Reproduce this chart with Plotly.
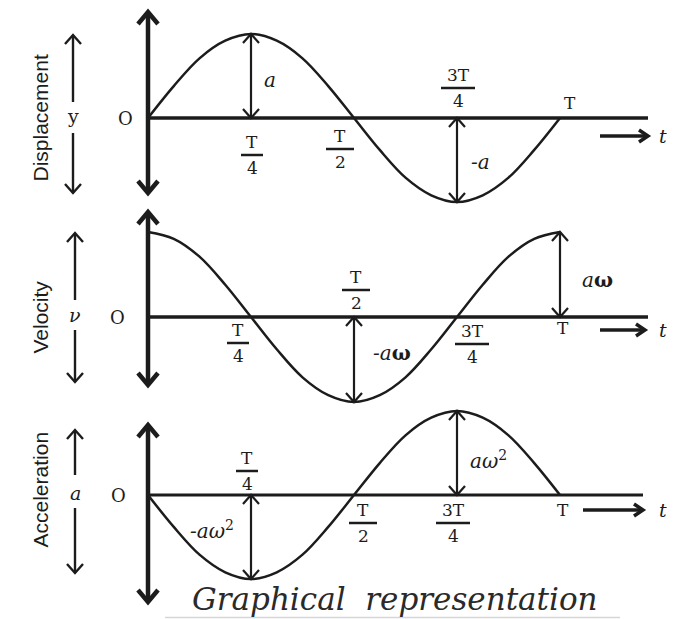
import plotly.graph_objects as go

# ---------------- data (t in units of the period T) ----------------
t_frac = [0, 0.0625, 0.125, 0.1875, 0.25, 0.3125, 0.375, 0.4375, 0.5,
          0.5625, 0.625, 0.6875, 0.75, 0.8125, 0.875, 0.9375, 1.0]
displacement = [0, 0.38, 0.71, 0.92, 1.0, 0.92, 0.71, 0.38, 0,
                -0.38, -0.71, -0.92, -1.0, -0.92, -0.71, -0.38, 0]
velocity = [1.0, 0.92, 0.71, 0.38, 0, -0.38, -0.71, -0.92, -1.0,
            -0.92, -0.71, -0.38, 0, 0.38, 0.71, 0.92, 1.0]
acceleration = [0, -0.38, -0.71, -0.92, -1.0, -0.92, -0.71, -0.38, 0,
                0.38, 0.71, 0.92, 1.0, 0.92, 0.71, 0.38, 0]

panel_titles = ["Displacement", "Velocity", "Acceleration"]
panel_symbols = ["y", "<i>ν</i>", "<i>a</i>"]
tick_t = [0.25, 0.5, 0.75, 1.0]
tick_num = ["T", "T", "3T", "T"]
tick_den = ["4", "2", "4", ""]

amp_t = [[0.25, 0.75], [0.5, 1.0], [0.25, 0.75]]
amp_val = [[1.0, -1.0], [-1.0, 1.0], [-1.0, 1.0]]
amp_labels = [["<i>a</i>", "<i>-a</i>"],
              ["<i>-a</i><b>ω</b>", "<i>a</i><b>ω</b>"],
              ["<i>-aω</i><sup>2</sup>", "<i>aω</i><sup>2</sup>"]]
title_text = "<i>Graphical  representation</i>"

# ---------------- layout geometry (pixels) ----------------
W, H = 678, 619
X0, SX = 148, 412                     # pixel of t=0, pixels per period
zero_px = [118, 317, 495]
amp_px = [84, 85, 84]
axis_top_px = [12, 212, 425]
axis_bot_px = [193, 385, 602]
haxis_end_px = [648, 648, 643]
haxis_w = [3.5, 3.5, 3]
t_arrow_px = [(600, 648, 136), (600, 645, 330), (583, 643, 510)]
left_arrow_px = [(35, 102, 133, 193), (233, 300, 330, 382), (430, 475, 508, 573)]
left_x_px = [73, 75, 75]
title_y_px = [118, 317, 490]
o_x_px = [125, 117, 118]
amp_label_px = [[(270, 80), (480, 162)], [(392, 353), (597, 280)], [(212, 530), (488, 460)]]
frac_px = [[(252, 155), (340, 149), (458, 88), (570, 103)],
           [(238, 343), (356, 290), (472, 344), (563, 328)],
           [(247, 471), (363, 523), (453, 523), (563, 510)]]
bar_w = [22, 28, 34]

INK = "#1c1c1c"
SERIF = "DejaVu Serif"
SANS = "Liberation Sans"
yaxes = ["y", "y2", "y3"]
series = [displacement, velocity, acceleration]


def xd(px):
    return (px - X0) / SX


def yd(k, py):
    return (zero_px[k] - py) / amp_px[k]


def arrow_xy(k, x0, y0, x1, y1, L, Wd, both=False):
    """shaft + open chevron head(s); inputs in data units"""
    p0 = (X0 + SX * x0, zero_px[k] - amp_px[k] * y0)
    p1 = (X0 + SX * x1, zero_px[k] - amp_px[k] * y1)
    pts = [[p0, p1]]

    def head(a, b):
        dx, dy = b[0] - a[0], b[1] - a[1]
        n = (dx * dx + dy * dy) ** 0.5
        ux, uy = dx / n, dy / n
        return [(b[0] - L * ux - Wd * uy, b[1] - L * uy + Wd * ux), b,
                (b[0] - L * ux + Wd * uy, b[1] - L * uy - Wd * ux)]
    pts.append(head(p0, p1))
    if both:
        pts.append(head(p1, p0))
    xs, ys = [], []
    for seg in pts:
        for (px, py) in seg:
            xs.append(xd(px))
            ys.append(yd(k, py))
        xs.append(None)
        ys.append(None)
    return xs, ys


fig = go.Figure()
shapes = []
ann = []

for k in range(3):
    ya = yaxes[k]
    # curve
    fig.add_trace(go.Scatter(x=t_frac, y=series[k], mode="lines", yaxis=ya,
                             line=dict(color=INK, width=2.5, shape="spline", smoothing=1.0),
                             hoverinfo="skip", showlegend=False))
    # horizontal axis
    fig.add_trace(go.Scatter(x=[0, xd(haxis_end_px[k])], y=[0, 0], mode="lines", yaxis=ya,
                             line=dict(color=INK, width=haxis_w[k]), hoverinfo="skip", showlegend=False))
    # main vertical axis double arrow
    xs, ys = arrow_xy(k, 0, yd(k, axis_bot_px[k]), 0, yd(k, axis_top_px[k]), 12, 10, both=True)
    fig.add_trace(go.Scatter(x=xs, y=ys, mode="lines", yaxis=ya,
                             line=dict(color=INK, width=4.5), hoverinfo="skip", showlegend=False))
    # amplitude arrows
    for tt, vv in zip(amp_t[k], amp_val[k]):
        xs, ys = arrow_xy(k, tt, 0, tt, vv, 9, 8, both=True)
        fig.add_trace(go.Scatter(x=xs, y=ys, mode="lines", yaxis=ya,
                                 line=dict(color=INK, width=2.2), hoverinfo="skip", showlegend=False))
    # "-> t" arrow
    a0, a1, ay = t_arrow_px[k]
    xs, ys = arrow_xy(k, xd(a0), yd(k, ay), xd(a1), yd(k, ay), 9, 6)
    fig.add_trace(go.Scatter(x=xs, y=ys, mode="lines", yaxis=ya,
                             line=dict(color=INK, width=3.5), hoverinfo="skip", showlegend=False))
    # left quantity arrows
    top, s1, s2, bot = left_arrow_px[k]
    lx = xd(left_x_px[k])
    for (p_from, p_to) in [(s1, top), (s2, bot)]:
        xs, ys = arrow_xy(k, lx, yd(k, p_from), lx, yd(k, p_to), 9, 8)
        fig.add_trace(go.Scatter(x=xs, y=ys, mode="lines", yaxis=ya,
                                 line=dict(color=INK, width=2.4), hoverinfo="skip", showlegend=False))

    # titles / symbols / origin
    ann.append(dict(text=panel_titles[k], x=26 / W, xref="paper", y=0, yref=ya,
                    yshift=zero_px[k] - title_y_px[k], textangle=-90, showarrow=False,
                    font=dict(family=SANS, size=21, color=INK)))
    ann.append(dict(text=panel_symbols[k], x=lx, xref="x", y=0, yref=ya, showarrow=False,
                    yshift=2, font=dict(family=SERIF, size=19, color=INK)))
    ann.append(dict(text="O", x=xd(o_x_px[k]), xref="x", y=0, yref=ya, showarrow=False,
                    font=dict(family=SERIF, size=18, color=INK)))
    # amplitude labels
    for (px, py), lab in zip(amp_label_px[k], amp_labels[k]):
        ann.append(dict(text=lab, x=xd(px), xref="x", y=yd(k, py), yref=ya, showarrow=False,
                        font=dict(family=SERIF, size=20, color=INK)))
    # period labels (fractions)
    for j, tt in enumerate(tick_t):
        cx, by = frac_px[k][j]
        xs_ = cx - (X0 + SX * tt)
        ysh = zero_px[k] - by
        if tick_den[j]:
            ann.append(dict(text=tick_num[j], x=tt, xref="x", y=0, yref=ya, showarrow=False,
                            xshift=xs_, yshift=ysh + 13, font=dict(family=SERIF, size=17, color=INK)))
            ann.append(dict(text=tick_den[j], x=tt, xref="x", y=0, yref=ya, showarrow=False,
                            xshift=xs_, yshift=ysh - 13, font=dict(family=SERIF, size=17, color=INK)))
            bw = bar_w[j if j < 3 else 0] / 2
            shapes.append(dict(type="line", xref="x", yref=ya,
                               x0=xd(cx - bw), x1=xd(cx + bw), y0=yd(k, by), y1=yd(k, by),
                               line=dict(color=INK, width=2.5)))
        else:
            ann.append(dict(text=tick_num[j], x=tt, xref="x", y=0, yref=ya, showarrow=False,
                            xshift=xs_, yshift=ysh, font=dict(family=SERIF, size=17, color=INK)))
    # t label
    ann.append(dict(text="<i>t</i>", x=xd(663), xref="x", y=yd(k, t_arrow_px[k][2]), yref=ya,
                    showarrow=False, font=dict(family=SERIF, size=19, color=INK)))

# caption at the bottom edge
ann.append(dict(text=title_text, x=395 / W, xref="paper", y=1 - 619 / H, yref="paper",
                showarrow=False, font=dict(family=SERIF, size=31, color="#2a2a2a")))
shapes.append(dict(type="line", xref="paper", yref="paper", x0=165 / W, x1=620 / W,
                   y0=1 - 617.5 / H, y1=1 - 617.5 / H, line=dict(color="#d6d6d6", width=1.5)))


def yrange(k):
    return [-(H - zero_px[k]) / amp_px[k], zero_px[k] / amp_px[k]]


ax_common = dict(visible=False, showgrid=False, zeroline=False, fixedrange=True)
fig.update_layout(
    width=W, height=H, margin=dict(l=0, r=0, t=0, b=0),
    paper_bgcolor="white", plot_bgcolor="white", showlegend=False,
    xaxis=dict(range=[xd(0), xd(W)], domain=[0, 1], **ax_common),
    yaxis=dict(range=yrange(0), domain=[0, 1], **ax_common),
    yaxis2=dict(range=yrange(1), overlaying="y", **ax_common),
    yaxis3=dict(range=yrange(2), overlaying="y", **ax_common),
    shapes=shapes, annotations=ann,
)

fig.write_html("out.html", config={"displayModeBar": False},
               post_script="document.body.style.margin='0';document.body.style.overflow='hidden';")
